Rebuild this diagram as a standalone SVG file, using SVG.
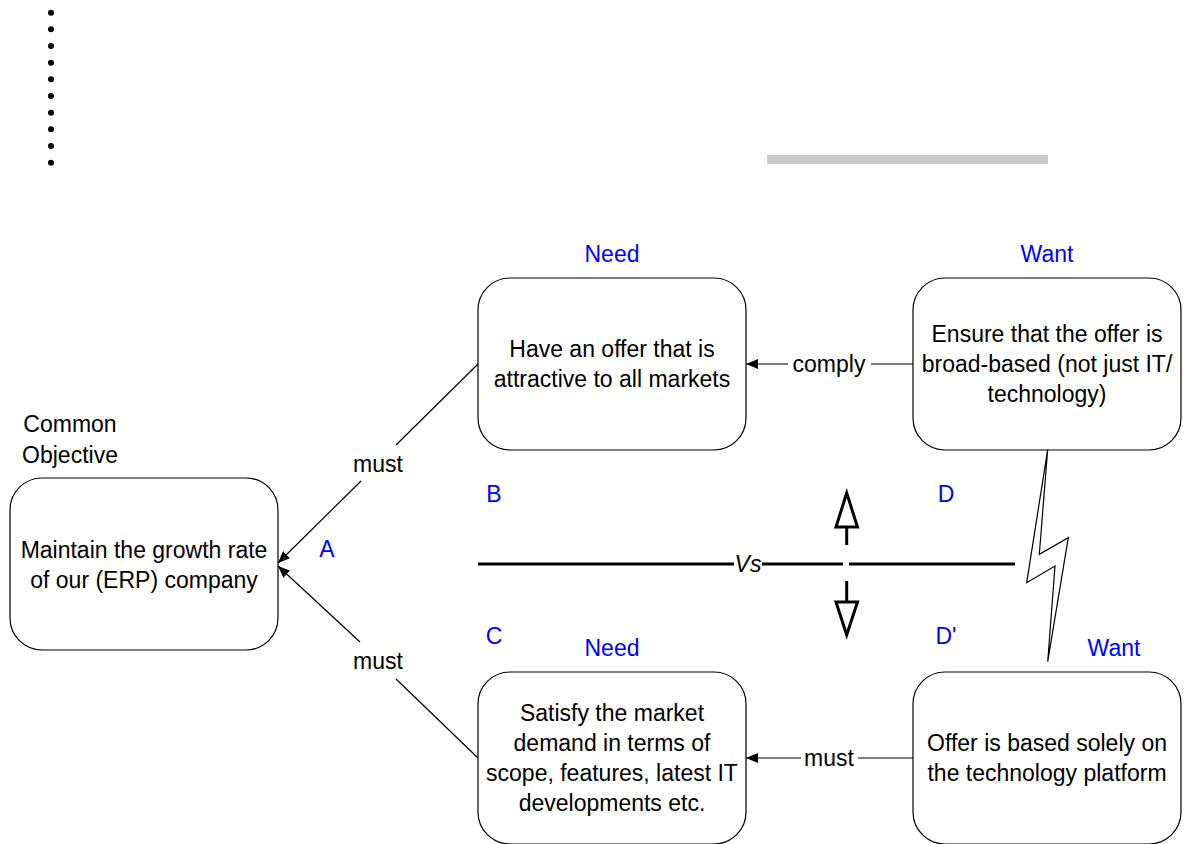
<svg xmlns="http://www.w3.org/2000/svg" width="1189" height="844" viewBox="0 0 1189 844">
<style>
text{font-family:"Liberation Sans",Arial,sans-serif;font-size:23px;text-anchor:middle;fill:#000}
.lbl{fill:#0000ff}
.box{fill:#fff;stroke:#000;stroke-width:1.2}
.con{stroke:#000;stroke-width:1.2;fill:none}
.thick{stroke:#000;stroke-width:3;fill:none}
</style>
<defs>
<marker id="ah" viewBox="0 0 12 10" refX="12" refY="5" markerWidth="12" markerHeight="10" markerUnits="userSpaceOnUse" orient="auto">
<path d="M0,0 L12,5 L0,10 Z" fill="#000"/>
</marker>
</defs>
<rect width="1189" height="844" fill="#fff"/>
<g id="dots" fill="#000">
<circle cx="51" cy="12.7" r="3"/><circle cx="51" cy="29.3" r="3"/><circle cx="51" cy="46" r="3"/><circle cx="51" cy="62.7" r="3"/><circle cx="51" cy="79.3" r="3"/><circle cx="51" cy="96" r="3"/><circle cx="51" cy="112.7" r="3"/><circle cx="51" cy="129.3" r="3"/><circle cx="51" cy="146" r="3"/><circle cx="51" cy="162.7" r="3"/>
</g>
<rect id="graybar" x="767" y="155" width="281" height="9" fill="#c8c8c8"/>
<g id="labels">
<text x="70" y="432">Common</text>
<text x="70" y="463">Objective</text>
<text class="lbl" x="612" y="262">Need</text>
<text class="lbl" x="1047" y="262">Want</text>
<text class="lbl" x="612" y="656">Need</text>
<text class="lbl" x="1114" y="656">Want</text>
<text class="lbl" x="327" y="557">A</text>
<text class="lbl" x="494" y="502">B</text>
<text class="lbl" x="494" y="644">C</text>
<text class="lbl" x="946" y="502">D</text>
<text class="lbl" x="946" y="644">D'</text>
</g>
<g id="nodeA">
<rect class="box" x="10" y="478" width="268" height="172" rx="32"/>
<text x="144" y="558">Maintain the growth rate</text>
<text x="144" y="588">of our (ERP) company</text>
</g>
<g id="nodeB">
<rect class="box" x="478" y="278" width="268" height="172" rx="32"/>
<text x="612" y="357">Have an offer that is</text>
<text x="612" y="387">attractive to all markets</text>
</g>
<g id="nodeD">
<rect class="box" x="913" y="278" width="268" height="172" rx="32"/>
<text x="1047" y="342">Ensure that the offer is</text>
<text x="1047" y="372">broad-based (not just IT/</text>
<text x="1047" y="402">technology)</text>
</g>
<g id="nodeC">
<rect class="box" x="478" y="672" width="268" height="172" rx="32"/>
<text x="612" y="721">Satisfy the market</text>
<text x="612" y="751">demand in terms of</text>
<text x="612" y="781">scope, features, latest IT</text>
<text x="612" y="811">developments etc.</text>
</g>
<g id="nodeD2">
<rect class="box" x="913" y="672" width="268" height="172" rx="32"/>
<text x="1047" y="751">Offer is based solely on</text>
<text x="1047" y="781">the technology platform</text>
</g>
<g id="connectors">
<line class="con" x1="478" y1="364" x2="396" y2="445"/>
<line class="con" x1="361" y1="481" x2="278" y2="563" marker-end="url(#ah)"/>
<text x="378" y="472">must</text>
<line class="con" x1="478" y1="758" x2="396" y2="679"/>
<line class="con" x1="360" y1="642" x2="278" y2="566" marker-end="url(#ah)"/>
<text x="378" y="669">must</text>
<line class="con" x1="913" y1="364" x2="871" y2="364"/>
<line class="con" x1="788" y1="364" x2="746" y2="364" marker-end="url(#ah)"/>
<text x="829" y="372">comply</text>
<line class="con" x1="913" y1="758" x2="858" y2="758"/>
<line class="con" x1="801" y1="758" x2="746" y2="758" marker-end="url(#ah)"/>
<text x="829" y="766">must</text>
</g>
<g id="conflict">
<line class="thick" x1="478" y1="564" x2="734" y2="564"/>
<line class="thick" x1="762" y1="564" x2="843" y2="564"/>
<line class="thick" x1="849" y1="564" x2="1015" y2="564"/>
<text x="748" y="572" font-style="italic">Vs</text>
<line class="thick" x1="846.7" y1="545" x2="846.7" y2="527"/>
<polygon class="thick" points="836,527 857.5,527 846.7,493"/>
<line class="thick" x1="846.7" y1="581" x2="846.7" y2="602"/>
<polygon class="thick" points="836,602 857.5,602 846.7,635"/>
<polygon points="1047.7,449.3 1039.3,554.3 1068.3,537.7 1047.7,661.7 1055,566 1026.7,582.7" fill="#fff" stroke="#000" stroke-width="1.2" stroke-linejoin="miter"/>
</g>
</svg>
